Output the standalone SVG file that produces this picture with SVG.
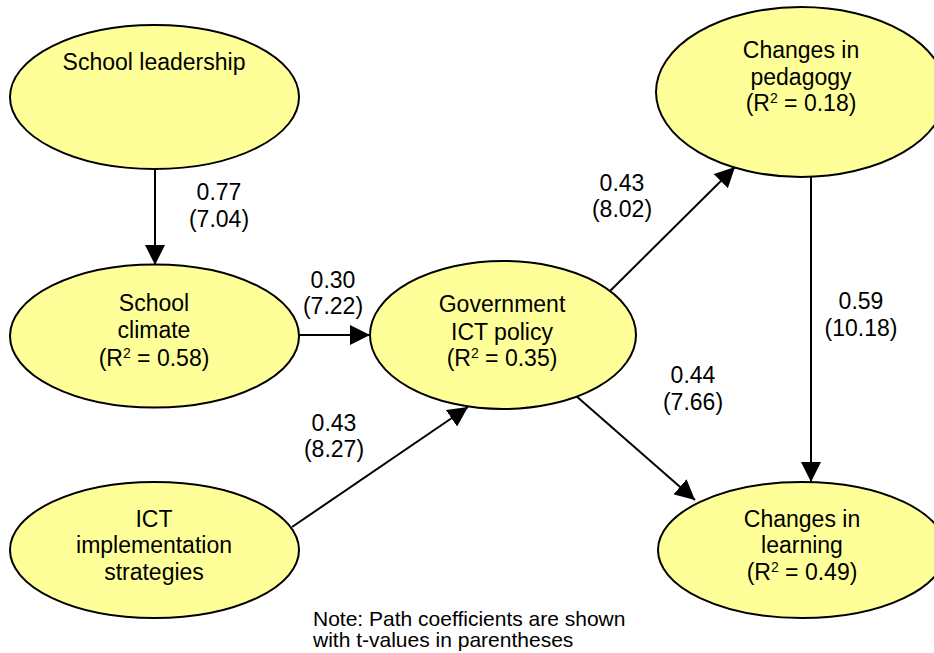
<svg xmlns="http://www.w3.org/2000/svg" width="934" height="653" viewBox="0 0 934 653">
  <defs>
    <marker id="arrow" markerUnits="userSpaceOnUse" markerWidth="20" markerHeight="20" refX="20" refY="10" orient="auto">
      <path d="M0,0 L20,10 L0,20 z" fill="#000"/>
    </marker>
    <style>
      .node ellipse { fill: #FFFF99; stroke: #000; stroke-width: 2; }
      .node text, .label { font-family: "Liberation Sans", Arial, sans-serif; font-size: 23px; fill: #000; text-anchor: middle; }
      .sup { font-size: 14px; }
      .conn line { stroke: #000; stroke-width: 2; marker-end: url(#arrow); }
      .note { font-family: "Liberation Sans", Arial, sans-serif; font-size: 21px; fill: #000; }
    </style>
  </defs>
  <rect width="934" height="653" fill="#fff"/>

  <!-- connectors -->
  <g id="connectors" class="conn">
    <line x1="155" y1="169" x2="155" y2="265"/>
    <line x1="299" y1="335" x2="370" y2="335"/>
    <line x1="292" y1="527" x2="468" y2="407"/>
    <line x1="608" y1="293" x2="735" y2="167"/>
    <line x1="575" y1="395" x2="695" y2="500"/>
    <line x1="811" y1="177" x2="811" y2="482"/>
  </g>

  <!-- nodes -->
  <g id="school-leadership" class="node">
    <ellipse cx="154.5" cy="97" rx="144.5" ry="72"/>
    <text x="154" y="70">School leadership</text>
  </g>
  <g id="school-climate" class="node">
    <ellipse cx="154.5" cy="336" rx="144.5" ry="71.5"/>
    <text x="154" y="311">School</text>
    <text x="154" y="338">climate</text>
    <text x="154" y="366">(R<tspan class="sup" dy="-8">2</tspan><tspan dy="8"> = 0.58)</tspan></text>
  </g>
  <g id="ict-implementation" class="node">
    <ellipse cx="154.5" cy="550" rx="144.5" ry="68"/>
    <text x="154" y="527">ICT</text>
    <text x="154" y="553">implementation</text>
    <text x="154" y="580">strategies</text>
  </g>
  <g id="government-ict-policy" class="node">
    <ellipse cx="503" cy="335" rx="133" ry="74"/>
    <text x="502" y="312">Government</text>
    <text x="502" y="340">ICT policy</text>
    <text x="502" y="366">(R<tspan class="sup" dy="-8">2</tspan><tspan dy="8"> = 0.35)</tspan></text>
  </g>
  <g id="changes-in-pedagogy" class="node">
    <ellipse cx="801" cy="92" rx="145" ry="85"/>
    <text x="801" y="58">Changes in</text>
    <text x="801" y="85">pedagogy</text>
    <text x="801" y="111">(R<tspan class="sup" dy="-8">2</tspan><tspan dy="8"> = 0.18)</tspan></text>
  </g>
  <g id="changes-in-learning" class="node">
    <ellipse cx="802" cy="550" rx="144" ry="68"/>
    <text x="802" y="527">Changes in</text>
    <text x="802" y="553">learning</text>
    <text x="802" y="580">(R<tspan class="sup" dy="-8">2</tspan><tspan dy="8"> = 0.49)</tspan></text>
  </g>

  <!-- path coefficients with t-values -->
  <g id="labels">
    <text class="label" x="219" y="200">0.77</text>
    <text class="label" x="219" y="227">(7.04)</text>
    <text class="label" x="333" y="288">0.30</text>
    <text class="label" x="333" y="314">(7.22)</text>
    <text class="label" x="334" y="431">0.43</text>
    <text class="label" x="334" y="457">(8.27)</text>
    <text class="label" x="622" y="191">0.43</text>
    <text class="label" x="622" y="217">(8.02)</text>
    <text class="label" x="693" y="383">0.44</text>
    <text class="label" x="693" y="410">(7.66)</text>
    <text class="label" x="861" y="309">0.59</text>
    <text class="label" x="861" y="336">(10.18)</text>
  </g>

  <g id="note">
    <text class="note" x="313" y="626">Note: Path coefficients are shown</text>
    <text class="note" x="313" y="647">with t-values in parentheses</text>
  </g>
</svg>
